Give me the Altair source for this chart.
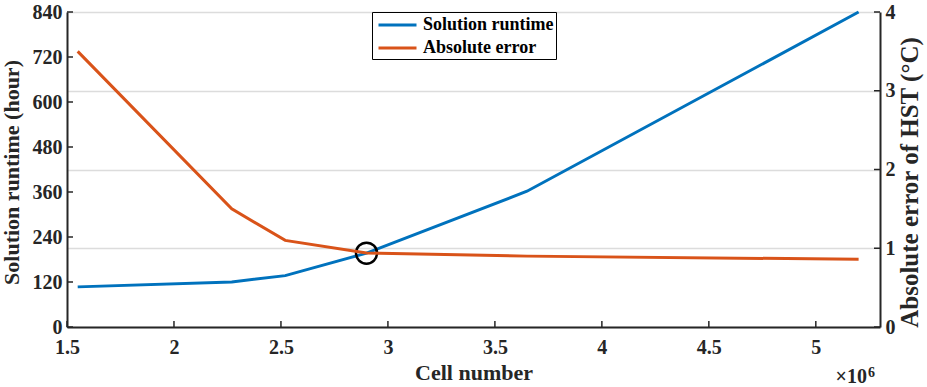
import altair as alt
import pandas as pd

# ---- data (cell number in units of 10^6) ----
cells = [1.55, 2.27, 2.52, 2.9, 3.65, 5.2]
runtime_hours = [107, 120, 137, 197, 362, 840]
abs_error_c = [3.5, 1.5, 1.1, 0.94, 0.9, 0.86]
series_names = ["Solution runtime", "Absolute error"]
series_colors = ["#0072BD", "#D95319"]

marker_x = [2.9]
marker_y = [197]

x_ticks = [1.5, 2, 2.5, 3, 3.5, 4, 4.5, 5]
left_ticks = [0, 120, 240, 360, 480, 600, 720, 840]
right_ticks = [0, 1, 2, 3, 4]

W, H = 813, 315
FONT = "Liberation Serif"
AX = "#262626"

df_rt = pd.DataFrame({"cells": cells, "value": runtime_hours, "series": series_names[0]})
df_err = pd.DataFrame({"cells": cells, "value": abs_error_c, "series": series_names[1]})

common = dict(
    domainColor=AX, domainWidth=2, tickSize=0, labelFlush=False,
    labelFont=FONT, labelFontWeight="bold", labelFontSize=20, labelColor=AX,
    titleFont=FONT, titleFontWeight="bold", titleColor=AX,
)
x_axis = alt.Axis(values=x_ticks, format="~g", labelPadding=10, grid=False,
                  title="Cell number", titlePadding=5, titleFontSize=22, **common)
yl_axis = alt.Axis(values=left_ticks, labelPadding=5, grid=False,
                   title="Solution runtime (hour)", titlePadding=9, titleFontSize=22,
                   titleY=160, **common)
yr_axis = alt.Axis(orient="right", values=right_ticks, labelPadding=5,
                   grid=True, gridColor="#dcdcdc", gridWidth=1.5,
                   title="Absolute error of HST (°C)", titlePadding=2, titleFontSize=25,
                   titleAngle=270, titleBaseline="top", titleY=170, **common)

xscale = alt.Scale(domain=[1.5, 5.3], nice=False, zero=False)
ylscale = alt.Scale(domain=[0, 840], nice=False)
yrscale = alt.Scale(domain=[0, 4], nice=False)

color = alt.Color(
    "series:N",
    scale=alt.Scale(domain=series_names, range=series_colors),
    legend=alt.Legend(
        title=None, orient="none", legendX=305, legendY=0,
        symbolType="M-2,0L2,0", symbolSize=361, symbolStrokeWidth=3, symbolOffset=12.5,
        labelFont=FONT, labelFontWeight="bold", labelFontSize=18, labelColor="black",
        labelOffset=14.5, padding=2, rowPadding=3,
        strokeColor="black", fillColor="white",
    ),
)

line_rt = alt.Chart(df_rt).mark_line(strokeWidth=3).encode(
    x=alt.X("cells:Q", scale=xscale, axis=x_axis),
    y=alt.Y("value:Q", scale=ylscale, axis=yl_axis),
    color=color,
)

marker = alt.Chart(pd.DataFrame({"cells": marker_x, "value": marker_y})).mark_point(
    shape="circle", filled=False, size=441, strokeWidth=2.5, color="black", opacity=1
).encode(x=alt.X("cells:Q", scale=xscale, axis=x_axis),
         y=alt.Y("value:Q", scale=ylscale, axis=yl_axis))

lt = alt.Chart(pd.DataFrame({"v": left_ticks})).mark_rule(color=AX, strokeWidth=1.5).encode(
    y=alt.Y("v:Q", scale=ylscale, axis=yl_axis), x=alt.value(0), x2=alt.value(6))
bt = alt.Chart(pd.DataFrame({"c": x_ticks})).mark_rule(color=AX, strokeWidth=1.5).encode(
    x=alt.X("c:Q", scale=xscale, axis=x_axis), y=alt.value(H), y2=alt.value(H - 6))

exp1 = alt.Chart(pd.DataFrame({"t": ["×10"]})).mark_text(
    font=FONT, fontWeight="bold", fontSize=20, color=AX, align="right", baseline="alphabetic"
).encode(text="t:N", x=alt.value(800), y=alt.value(371))
exp2 = alt.Chart(pd.DataFrame({"t": ["6"]})).mark_text(
    font=FONT, fontWeight="bold", fontSize=14, color=AX, align="left", baseline="alphabetic"
).encode(text="t:N", x=alt.value(801), y=alt.value(365))

left_layer = alt.layer(line_rt, lt, bt, marker, exp1, exp2)

line_err = alt.Chart(df_err).mark_line(strokeWidth=3).encode(
    x=alt.X("cells:Q", scale=xscale, axis=x_axis),
    y=alt.Y("value:Q", scale=yrscale, axis=yr_axis),
    color=color,
)
rt = alt.Chart(pd.DataFrame({"v": right_ticks})).mark_rule(color=AX, strokeWidth=1.5).encode(
    y=alt.Y("v:Q", scale=yrscale, axis=yr_axis), x=alt.value(W), x2=alt.value(W - 6))

right_layer = alt.layer(line_err, rt)

chart = alt.layer(left_layer, right_layer).resolve_scale(y="independent").properties(
    width=W, height=H,
    autosize=alt.AutoSizeParams(type="none"),
    padding={"left": 67, "top": 12, "right": 47, "bottom": 60},
    background="white",
).configure_view(stroke=None)

chart.save("out.html", embed_options={"renderer": "svg", "actions": False})
